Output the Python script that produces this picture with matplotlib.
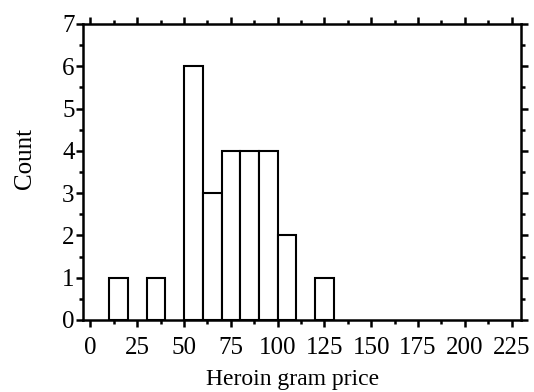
import numpy as np
import matplotlib
matplotlib.use('Agg')
import matplotlib.pyplot as plt
from matplotlib.ticker import MultipleLocator

# histogram of heroin gram prices (bin left edges, width 10)
bin_lefts = [10, 30, 50, 60, 70, 80, 90, 100, 120]
counts = [1, 1, 6, 3, 4, 4, 4, 2, 1]
bin_width = 10
xticks = [0, 25, 50, 75, 100, 125, 150, 175, 200, 225]
yticks = [0, 1, 2, 3, 4, 5, 6, 7]

plt.rcParams['font.family'] = ['Liberation Serif', 'DejaVu Serif']

fig = plt.figure(figsize=(5.34, 3.92), dpi=100)
ax = fig.add_axes([0.1554, 0.1837, 0.8203, 0.7551])

ax.bar(bin_lefts, counts, width=bin_width, align='edge',
       facecolor='white', edgecolor='black', linewidth=1.5)

ax.set_xlim(-4, 230)
ax.set_ylim(0, 7)
ax.set_xticks(xticks)
ax.set_yticks(yticks)
ax.xaxis.set_minor_locator(MultipleLocator(12.5))
ax.yaxis.set_minor_locator(MultipleLocator(0.5))

for s in ax.spines.values():
    s.set_linewidth(1.8)
ax.tick_params(which='both', direction='out', top=True, right=True,
               labeltop=False, labelright=False, width=1.8)
ax.tick_params(which='major', length=5, labelsize=18)
ax.tick_params(axis='x', which='major', pad=7)
ax.tick_params(axis='y', which='major', pad=1)
ax.tick_params(which='minor', length=3)

ax.set_xlabel('Heroin gram price', fontsize=17)
ax.set_ylabel('Count', fontsize=18)
ax.xaxis.set_label_coords(0.478, -0.165)
ax.yaxis.set_label_coords(-0.108, 0.545)

fig.savefig('out.png', dpi=100)
